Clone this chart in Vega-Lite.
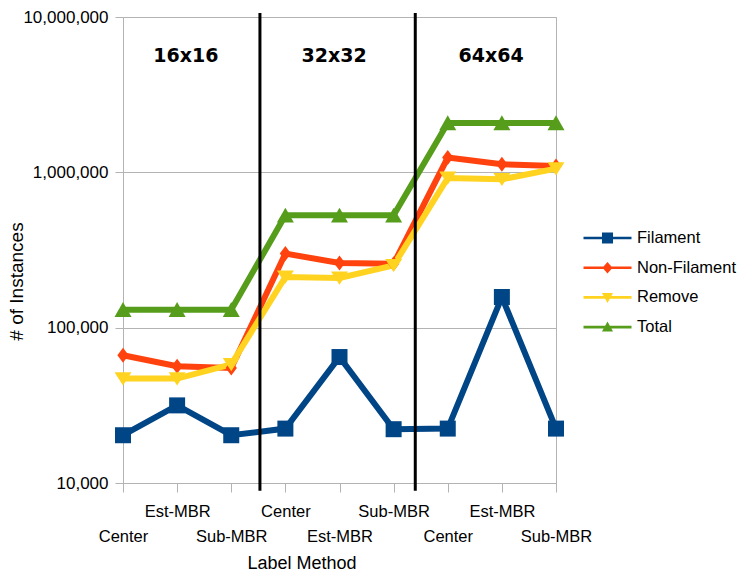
{
  "$schema": "https://vega.github.io/schema/vega-lite/v6.json",
  "width": 433,
  "height": 466,
  "autosize": "none",
  "padding": {"left": 123, "top": 17, "right": 183, "bottom": 91},
  "background": "white",
  "config": {
    "view": {"stroke": "#b3b3b3", "strokeWidth": 1},
    "font": "Liberation Sans"
  },
  "datasets": {
    "counts": [
      {"idx": 0, "method": "Center", "grid": "16x16", "series": "Filament", "value": 20300},
      {"idx": 1, "method": "Est-MBR", "grid": "16x16", "series": "Filament", "value": 31600},
      {"idx": 2, "method": "Sub-MBR", "grid": "16x16", "series": "Filament", "value": 20300},
      {"idx": 3, "method": "Center", "grid": "32x32", "series": "Filament", "value": 22400},
      {"idx": 4, "method": "Est-MBR", "grid": "32x32", "series": "Filament", "value": 64700},
      {"idx": 5, "method": "Sub-MBR", "grid": "32x32", "series": "Filament", "value": 22200},
      {"idx": 6, "method": "Center", "grid": "64x64", "series": "Filament", "value": 22400},
      {"idx": 7, "method": "Est-MBR", "grid": "64x64", "series": "Filament", "value": 157500},
      {"idx": 8, "method": "Sub-MBR", "grid": "64x64", "series": "Filament", "value": 22400},
      {"idx": 0, "method": "Center", "grid": "16x16", "series": "Non-Filament", "value": 66400},
      {"idx": 1, "method": "Est-MBR", "grid": "16x16", "series": "Non-Filament", "value": 56400},
      {"idx": 2, "method": "Sub-MBR", "grid": "16x16", "series": "Non-Filament", "value": 55000},
      {"idx": 3, "method": "Center", "grid": "32x32", "series": "Non-Filament", "value": 300000},
      {"idx": 4, "method": "Est-MBR", "grid": "32x32", "series": "Non-Filament", "value": 260700},
      {"idx": 5, "method": "Sub-MBR", "grid": "32x32", "series": "Non-Filament", "value": 258000},
      {"idx": 6, "method": "Center", "grid": "64x64", "series": "Non-Filament", "value": 1244000},
      {"idx": 7, "method": "Est-MBR", "grid": "64x64", "series": "Non-Filament", "value": 1127000},
      {"idx": 8, "method": "Sub-MBR", "grid": "64x64", "series": "Non-Filament", "value": 1099000},
      {"idx": 0, "method": "Center", "grid": "16x16", "series": "Remove", "value": 47000},
      {"idx": 1, "method": "Est-MBR", "grid": "16x16", "series": "Remove", "value": 47000},
      {"idx": 2, "method": "Sub-MBR", "grid": "16x16", "series": "Remove", "value": 58000},
      {"idx": 3, "method": "Center", "grid": "32x32", "series": "Remove", "value": 212000},
      {"idx": 4, "method": "Est-MBR", "grid": "32x32", "series": "Remove", "value": 209000},
      {"idx": 5, "method": "Sub-MBR", "grid": "32x32", "series": "Remove", "value": 252000},
      {"idx": 6, "method": "Center", "grid": "64x64", "series": "Remove", "value": 920000},
      {"idx": 7, "method": "Est-MBR", "grid": "64x64", "series": "Remove", "value": 902000},
      {"idx": 8, "method": "Sub-MBR", "grid": "64x64", "series": "Remove", "value": 1057000},
      {"idx": 0, "method": "Center", "grid": "16x16", "series": "Total", "value": 130500},
      {"idx": 1, "method": "Est-MBR", "grid": "16x16", "series": "Total", "value": 130500},
      {"idx": 2, "method": "Sub-MBR", "grid": "16x16", "series": "Total", "value": 130500},
      {"idx": 3, "method": "Center", "grid": "32x32", "series": "Total", "value": 529000},
      {"idx": 4, "method": "Est-MBR", "grid": "32x32", "series": "Total", "value": 529000},
      {"idx": 5, "method": "Sub-MBR", "grid": "32x32", "series": "Total", "value": 529000},
      {"idx": 6, "method": "Center", "grid": "64x64", "series": "Total", "value": 2080000},
      {"idx": 7, "method": "Est-MBR", "grid": "64x64", "series": "Total", "value": 2080000},
      {"idx": 8, "method": "Sub-MBR", "grid": "64x64", "series": "Total", "value": 2080000}
    ],
    "separators": [
      {"sep": 2.53},
      {"sep": 5.4}
    ],
    "groups": [
      {"grid": "16x16", "pos": 1.16},
      {"grid": "32x32", "pos": 3.9},
      {"grid": "64x64", "pos": 6.8}
    ]
  },
  "layer": [
    {
      "data": {"name": "counts"},
      "mark": {"type": "line", "strokeWidth": 6},
      "encoding": {
        "x": {
          "field": "idx",
          "type": "quantitative",
          "scale": {"domain": [0, 8], "nice": false, "zero": false},
          "axis": {
            "values": [0, 1, 2, 3, 4, 5, 6, 7, 8],
            "labelExpr": "['Center','Est-MBR','Sub-MBR','Center','Est-MBR','Sub-MBR','Center','Est-MBR','Sub-MBR'][datum.value]",
            "labelPadding": {"condition": {"test": "datum.value % 2 == 1", "value": 19}, "value": 44},
            "labelBaseline": "middle",
            "labelAlign": "center",
            "labelFontSize": 16.5,
            "labelColor": "#000000",
            "labelFlush": false,
            "labelOverlap": false,
            "tickColor": "#b3b3b3",
            "tickSize": 9,
            "domainColor": "#b3b3b3",
            "grid": false,
            "title": "Label Method",
            "titleFontSize": 18,
            "titleFontWeight": "normal",
            "titleColor": "#000000",
            "titleX": 178.5,
            "titleY": 80,
            "titleAlign": "center",
            "titleBaseline": "middle"
          }
        },
        "y": {
          "field": "value",
          "type": "quantitative",
          "scale": {"type": "log", "domain": [10000, 10000000], "nice": false},
          "axis": {
            "values": [10000, 100000, 1000000, 10000000],
            "format": ",",
            "labelFontSize": 17,
            "labelColor": "#000000",
            "labelPadding": 7,
            "tickSize": 8,
            "tickColor": "#b3b3b3",
            "grid": true,
            "gridColor": "#b3b3b3",
            "domainColor": "#b3b3b3",
            "title": "# of Instances",
            "titleFontSize": 19,
            "titleFontWeight": "normal",
            "titleColor": "#000000",
            "titleX": -107,
            "titleY": 264,
            "titleAlign": "center",
            "titleBaseline": "middle"
          }
        },
        "stroke": {
          "field": "series",
          "type": "nominal",
          "scale": {
            "domain": ["Total", "Remove", "Non-Filament", "Filament"],
            "range": ["#579d1c", "#ffd320", "#ff420e", "#004586"]
          },
          "legend": null
        }
      }
    },
    {
      "data": {"name": "counts"},
      "transform": [{"filter": "datum.series == 'Filament'"}],
      "mark": {"type": "point", "shape": "M-1,-1H1V1H-1Z", "size": 256, "filled": true, "opacity": 1, "strokeWidth": 0, "color": "#004586"},
      "encoding": {
        "x": {"field": "idx", "type": "quantitative"},
        "y": {"field": "value", "type": "quantitative"}
      }
    },
    {
      "data": {"name": "counts"},
      "transform": [{"filter": "datum.series == 'Non-Filament'"}],
      "mark": {"type": "point", "shape": "M0,-1L0.75,0L0,1L-0.75,0Z", "size": 225, "filled": true, "opacity": 1, "strokeWidth": 0, "color": "#ff420e"},
      "encoding": {
        "x": {"field": "idx", "type": "quantitative"},
        "y": {"field": "value", "type": "quantitative"}
      }
    },
    {
      "data": {"name": "counts"},
      "transform": [{"filter": "datum.series == 'Remove'"}],
      "mark": {"type": "point", "shape": "M-1,-0.75H1L0,0.8Z", "size": 289, "filled": true, "opacity": 1, "strokeWidth": 0, "color": "#ffd320"},
      "encoding": {
        "x": {"field": "idx", "type": "quantitative"},
        "y": {"field": "value", "type": "quantitative"}
      }
    },
    {
      "data": {"name": "counts"},
      "transform": [{"filter": "datum.series == 'Total'"}],
      "mark": {"type": "point", "shape": "M-1,0.85L0,-0.9L1,0.85Z", "size": 289, "filled": true, "opacity": 1, "strokeWidth": 0, "color": "#579d1c"},
      "encoding": {
        "x": {"field": "idx", "type": "quantitative"},
        "y": {"field": "value", "type": "quantitative"}
      }
    },
    {
      "data": {"name": "separators"},
      "mark": {"type": "rule", "color": "#000000", "strokeWidth": 3, "clip": false},
      "encoding": {
        "x": {"field": "sep", "type": "quantitative"},
        "y": {"datum": 8900, "type": "quantitative"},
        "y2": {"datum": 10600000}
      }
    },
    {
      "data": {"name": "groups"},
      "mark": {"type": "text", "font": "DejaVu Sans", "fontWeight": "bold", "fontSize": 19, "color": "#000000", "align": "center", "baseline": "middle"},
      "encoding": {
        "x": {"field": "pos", "type": "quantitative"},
        "y": {"datum": 5600000, "type": "quantitative"},
        "text": {"field": "grid", "type": "nominal"}
      }
    },
    {
      "data": {"name": "counts"},
      "mark": {"type": "point", "filled": true, "opacity": 0, "size": 576},
      "encoding": {
        "x": {"field": "idx", "type": "quantitative"},
        "y": {"field": "value", "type": "quantitative"},
        "color": {
          "field": "series",
          "type": "nominal",
          "scale": {
            "domain": ["Filament", "Non-Filament", "Remove", "Total"],
            "range": ["#004586", "#ff420e", "#ffd320", "#579d1c"]
          },
          "legend": {
            "orient": "none",
            "legendX": 472.5,
            "legendY": 209,
            "title": null,
            "padding": 0,
            "symbolSize": 576,
            "symbolOpacity": 1,
            "symbolStrokeWidth": 0,
            "labelOffset": 17.5,
            "rowPadding": 8.7,
            "labelFontSize": 16.5,
            "labelFont": "Liberation Sans",
            "labelColor": "#000000"
          }
        },
        "shape": {
          "field": "series",
          "type": "nominal",
          "scale": {
            "domain": ["Filament", "Non-Filament", "Remove", "Total"],
            "range": [
              "M-2,-0.11H2V0.11H-2Z M-0.46,-0.46H0.46V0.46H-0.46Z",
              "M-2,-0.11H2V0.11H-2Z M0,-0.48L0.42,0L0,0.48L-0.42,0Z",
              "M-2,-0.11H2V0.11H-2Z M-0.46,-0.36H0.46L0,0.46Z",
              "M-2,-0.11H2V0.11H-2Z M-0.46,0.36L0,-0.46L0.46,0.36Z"
            ]
          },
          "legend": {
            "orient": "none",
            "legendX": 472.5,
            "legendY": 209,
            "title": null,
            "padding": 0,
            "symbolSize": 576,
            "symbolOpacity": 1,
            "symbolStrokeWidth": 0,
            "labelOffset": 17.5,
            "rowPadding": 8.7,
            "labelFontSize": 16.5,
            "labelFont": "Liberation Sans",
            "labelColor": "#000000"
          }
        }
      }
    }
  ]
}
